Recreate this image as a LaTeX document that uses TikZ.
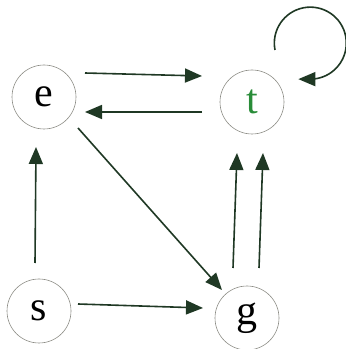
\documentclass[tikz,border=0pt]{standalone}
\usepackage{fontspec}
\setmainfont{Liberation Serif}
\usetikzlibrary{arrows.meta, calc}
\definecolor{myarrow}{rgb}{0.12, 0.22, 0.14}
\definecolor{mygray}{rgb}{0.55, 0.55, 0.52}
\definecolor{mygreen}{rgb}{0.16, 0.55, 0.22}

\begin{document}
\begin{tikzpicture}[x=1pt, y=1pt,
    vert/.style={circle, draw=mygray, line width=0.6pt, minimum size=64pt, inner sep=0pt, font=\fontsize{42}{46}\selectfont},
    arr/.style={draw=myarrow, line width=1.6pt, -{Triangle[length=17pt, width=14pt]}}]
            \useasboundingbox (0,0) rectangle (346,349);

            \node[vert] (e) at (44,252) {e};
            \node[vert, text=mygreen] (t) at (252,247) {t};
            \node[vert] (s) at (39,38) {s};
            \node[vert] (g) at (247,31) {g};

            \draw[arr] ([shift={(41,24)}]e.center) -- ([shift={(-50,26)}]t.center);
            \draw[arr] ([shift={(-50,-10)}]t.center) -- ([shift={(41,-15)}]e.center);
            \draw[arr] ([shift={(-4,48)}]s.center) -- ([shift={(-8,-50)}]e.center);
            \draw[arr] ([shift={(39,7)}]s.center) -- ([shift={(-44,10)}]g.center);
            \draw[arr] ([shift={(34,-31)}]e.center) -- ([shift={(-25,28)}]g.center);
            \draw[arr] ([shift={(-14,50)}]g.center) -- ([shift={(-15,-51)}]t.center);
            \draw[arr] ([shift={(12,50)}]g.center) -- ([shift={(11,-51)}]t.center);

            % loop on t
            \draw[arr] ([shift={(23,52)}]t.center) arc[start angle=191, end angle=-90, radius=36] -- ++(-12,0);
        \end{tikzpicture}
\end{document}
